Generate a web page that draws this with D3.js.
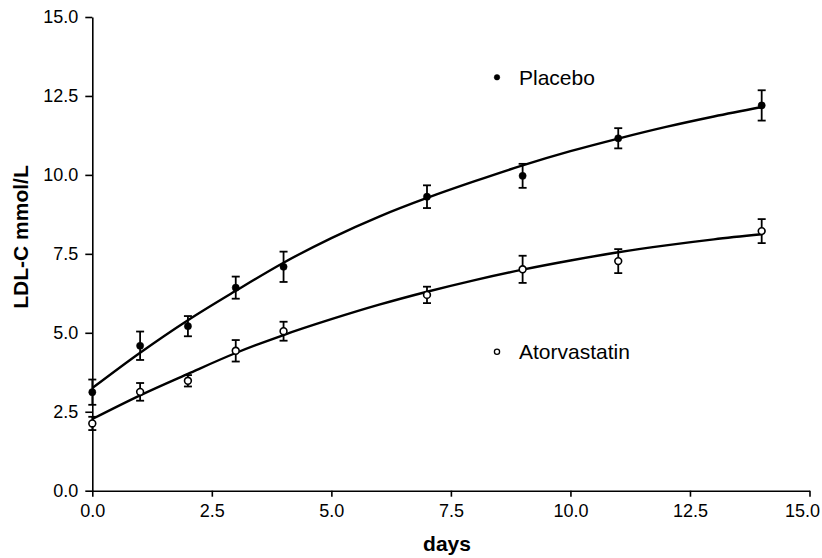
<!DOCTYPE html>
<html>
<head>
<meta charset="utf-8">
<script src="https://cdn.jsdelivr.net/npm/d3@7"></script>
<style>
  body { margin: 0; background: #fff; }
  svg { display: block; }
  text { font-family: Arial, "Liberation Sans", Helvetica, sans-serif; fill: #000; }
</style>
</head>
<body>
<svg id="chart" width="822" height="558"></svg>
<script>
// ---- data ----
const days = [0, 1, 2, 3, 4, 7, 9, 11, 14];
const placeboMean = [3.12, 4.59, 5.21, 6.43, 7.09, 9.31, 9.97, 11.16, 12.20];
const placeboErr  = [0.40, 0.45, 0.32, 0.35, 0.48, 0.36, 0.38, 0.32, 0.48];
const atorvaMean  = [2.13, 3.13, 3.48, 4.43, 5.05, 6.20, 7.01, 7.27, 8.22];
const atorvaErr   = [0.21, 0.28, 0.18, 0.34, 0.30, 0.26, 0.43, 0.38, 0.38];

// fitted curves
const fitDays    = [0, 1, 2, 3, 4, 5, 6, 7, 8, 9, 10, 11, 12, 13, 14];
const placeboFit = [3.25, 4.37, 5.40, 6.33, 7.22, 8.00, 8.68, 9.27, 9.80, 10.30, 10.75, 11.15, 11.52, 11.85, 12.15];
const atorvaFit  = [2.27, 3.02, 3.70, 4.36, 4.93, 5.43, 5.89, 6.30, 6.67, 7.00, 7.29, 7.55, 7.77, 7.96, 8.12];

const xTicks = [0, 2.5, 5, 7.5, 10, 12.5, 15];
const yTicks = [0, 2.5, 5, 7.5, 10, 12.5, 15];
const xTitle = "days";
const yTitle = "LDL-C mmol/L";
const seriesNames = ["Placebo", "Atorvastatin"];

// ---- drawing ----
const svg = d3.select("#chart");
const x = d3.scaleLinear().domain([0, 15]).range([92.3, 809.5]);
const y = d3.scaleLinear().domain([0, 15]).range([490.7, 17]);

const xAxis = svg.append("g")
  .attr("transform", `translate(0,${y(0)})`)
  .call(d3.axisBottom(x).tickValues(xTicks).tickFormat(d3.format(".1f"))
        .tickSizeInner(6).tickSizeOuter(0).tickPadding(8));
const yAxis = svg.append("g")
  .attr("transform", `translate(${x(0)},0)`)
  .call(d3.axisLeft(y).tickValues(yTicks).tickFormat(d3.format(".1f"))
        .tickSizeInner(7).tickSizeOuter(0).tickPadding(7));
[xAxis, yAxis].forEach(g => {
  g.selectAll("path, line").attr("stroke", "#000").attr("stroke-width", 1.6);
  g.selectAll("text").attr("font-size", 18).attr("fill", "#000")
    .style("font-family", "Arial, 'Liberation Sans', sans-serif");
});
// keep the last x label inside the picture
xAxis.selectAll(".tick text").filter(d => d === 15)
  .attr("text-anchor", "end").attr("x", 10);

svg.append("text")
  .attr("x", 447).attr("y", 551)
  .attr("text-anchor", "middle")
  .attr("font-size", 21).attr("font-weight", "bold")
  .text(xTitle);
svg.append("text")
  .attr("transform", "translate(28,237) rotate(-90)")
  .attr("text-anchor", "middle")
  .attr("font-size", 21).attr("font-weight", "bold")
  .text(yTitle);

const line = d3.line()
  .x((d, i) => x(fitDays[i]))
  .y(d => y(d))
  .curve(d3.curveMonotoneX);

[placeboFit, atorvaFit].forEach(fit => {
  svg.append("path").datum(fit)
    .attr("d", line)
    .attr("fill", "none").attr("stroke", "#000").attr("stroke-width", 2.4);
});

function drawSeries(mean, err, filled) {
  const g = svg.append("g");
  const cap = 4;
  days.forEach((d, i) => {
    const cx = x(d), top = y(mean[i] + err[i]), bot = y(mean[i] - err[i]);
    g.append("line").attr("x1", cx).attr("x2", cx).attr("y1", top).attr("y2", bot)
      .attr("stroke", "#000").attr("stroke-width", 1.8);
    [top, bot].forEach(yy => g.append("line")
      .attr("x1", cx - cap).attr("x2", cx + cap).attr("y1", yy).attr("y2", yy)
      .attr("stroke", "#000").attr("stroke-width", 1.8));
    g.append("circle").attr("cx", cx).attr("cy", y(mean[i]))
      .attr("r", filled ? 3.6 : 3.4)
      .attr("fill", filled ? "#000" : "#fff")
      .attr("stroke", "#000").attr("stroke-width", filled ? 0.5 : 1.6);
  });
}
drawSeries(placeboMean, placeboErr, true);
drawSeries(atorvaMean, atorvaErr, false);

// legend
const leg = [
  { name: seriesNames[0], filled: true, cy: 77.3 },
  { name: seriesNames[1], filled: false, cy: 351.7 }
];
leg.forEach(l => {
  svg.append("circle").attr("cx", 497).attr("cy", l.cy).attr("r", l.filled ? 2.8 : 2.6)
    .attr("fill", l.filled ? "#000" : "#fff").attr("stroke", "#000")
    .attr("stroke-width", l.filled ? 0.5 : 1.3);
  svg.append("text").attr("x", 519).attr("y", l.cy + 7.5)
    .attr("font-size", 21).text(l.name);
});
</script>
</body>
</html>
